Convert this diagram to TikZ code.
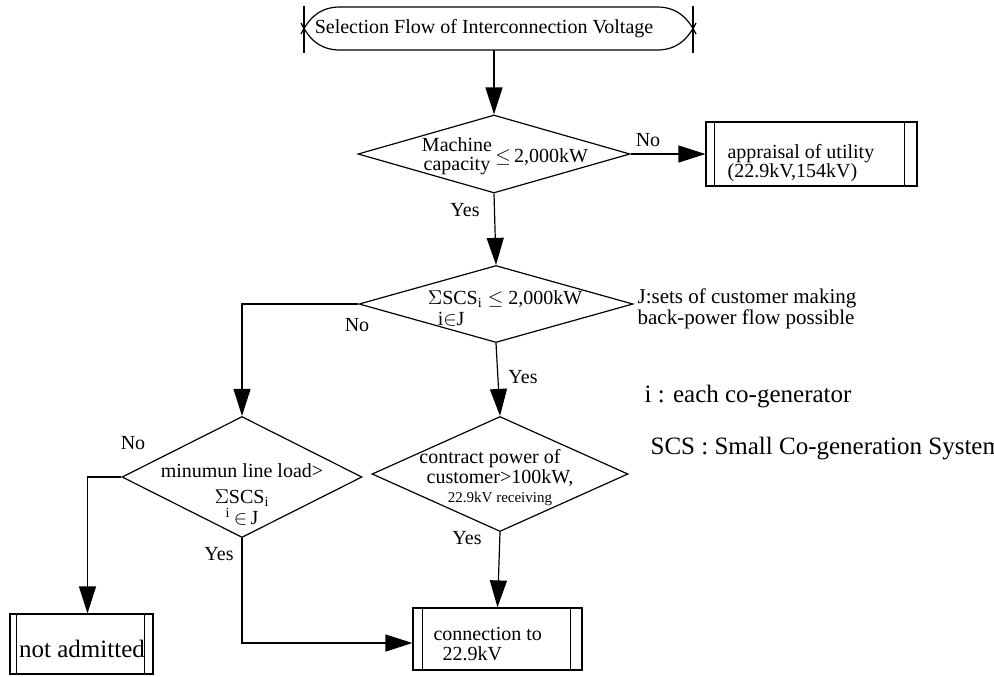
\documentclass[tikz,border=0pt]{standalone}
\usepackage{fontspec}
\setmainfont{Liberation Serif}
\usetikzlibrary{shapes.geometric,arrows.meta}
% text inside a diamond, zero size so the diamond keeps its size
\newcommand{\dtext}[2][0pt]{\raisebox{#1}[0pt][0pt]{\makebox[0pt]{\def\arraystretch{0.8}\begin{tabular}{@{}c@{}}#2\end{tabular}}}}

\begin{document}
\begin{tikzpicture}[x=0.5pt,y=-0.5pt,line width=0.6pt,
    decision/.style={diamond,draw,inner sep=0pt},
    process/.style={rectangle,draw,inner sep=0pt},
    flow/.style={-{Triangle[length=13.5pt,width=8.5pt]}},
    lbl/.style={inner sep=0pt}]
  \path[use as bounding box,clip] (0,0) rectangle (994,676);

  % start
  \node (title) at (484,29) {Selection Flow of Interconnection Voltage};
  \draw (340,7) -- (657,7) .. controls (677,7) and (688,18) .. (696,34);
  \draw (340,50) -- (657,50) .. controls (677,50) and (688,39) .. (696,23);
  \draw (340,7) .. controls (320,7) and (309,18) .. (301,34);
  \draw (340,50) .. controls (320,50) and (309,39) .. (301,23);
  \draw (304,6) -- (304,53) (693,6) -- (693,53);
  \coordinate (title-s) at (494,50);

  % decisions
  \node[decision,minimum width=136pt,minimum height=39pt] (cap) at (494,154)
    {\dtext[-4pt]{\hspace*{11pt}\begin{tabular}{@{}c@{}}Machine\\capacity\end{tabular}\,$\leq$\,2,000kW}};
  \node[decision,minimum width=137pt,minimum height=38.5pt] (sum) at (496,304)
    {\dtext[-6pt]{\hspace*{9pt}\begin{tabular}[t]{@{}l@{}}$\Sigma$SCS\textsubscript{i}\\[1pt]\hspace*{5pt}i$\in$J\end{tabular}\ $\leq$\ 2,000kW}};
  \node[decision,minimum width=120pt,minimum height=60.5pt] (minload) at (242,477)
    {\dtext[-12.5pt]{minumun line load>\\[3.5pt]$\Sigma$SCS\textsubscript{i}\\[-0.5pt]\textsuperscript{i}\,$\in$\,J}};
  \node[decision,minimum width=128pt,minimum height=57.5pt] (contract) at (500,474)
    {\dtext[-5pt]{\hspace*{-10pt}contract power of\\customer>100kW,\\{\fontsize{7.5}{9}\selectfont 22.9kV receiving}}};

  % processes
  \node[process,minimum width=105.5pt,minimum height=32pt] (appr) at (811.5,154) {};
  \node[process,minimum width=84.5pt,minimum height=31pt] (conn) at (497.5,639) {};
  \node[process,minimum width=71.5pt,minimum height=30pt] (notadm) at (81.5,644) {};
  \foreach \b/\l/\r in {appr/4.5/6.5,conn/5/6,notadm/3.5/4.5}
    \draw ([xshift=\l pt]\b.north west) -- ([xshift=\l pt]\b.south west)
      ([xshift=-\r pt]\b.north east) -- ([xshift=-\r pt]\b.south east);
  \node[lbl,anchor=west,align=left,font=\fontsize{10}{9.5}\selectfont] (appr-t) at (727,163)
    {appraisal of utility\\(22.9kV,154kV)};
  \node[lbl,anchor=west,align=left,font=\fontsize{10}{10}\selectfont] (conn-t) at (433,644)
    {connection to\\\hspace*{4.5pt}22.9kV};
  \node[lbl,font=\fontsize{12.5}{15}\selectfont] (notadm-t) at (82,649) {not admitted};

  % connectors
  \draw[flow] (title-s) -- (cap.north);
  \draw[flow] (cap.east) -- (appr.west);
  \draw[flow] (cap.south) -- (sum.north);
  \draw[flow] (sum.west) -| (minload.north);
  \draw[flow] (sum.south) -- (contract.north);
  \draw[flow] (contract.south) -- (conn.north);
  \draw[flow] (minload.west) -| ([xshift=3pt]notadm.north);
  \draw[flow] (minload.south) |- ([yshift=-2pt]conn.west);

  % labels
  \node[lbl] (no-cap) at (648,140) {No};
  \node[lbl] (yes-cap) at (465,210) {Yes};
  \node[lbl] (no-sum) at (357,325) {No};
  \node[lbl] (yes-sum) at (523,377) {Yes};
  \node[lbl] (no-min) at (133,443) {No};
  \node[lbl] (yes-min) at (219,554) {Yes};
  \node[lbl] (yes-con) at (467,538) {Yes};
  \node[lbl,anchor=west,align=left,font=\fontsize{10.5}{9.5}\selectfont] (jset) at (637,309)
    {J:sets of customer making\\back-power flow possible};
  \node[lbl,anchor=west,font=\fontsize{12.5}{15}\selectfont] (inote) at (644,397) {i : each co-generator};
  \node[lbl,anchor=west,font=\fontsize{12.5}{15}\selectfont] (scsnote) at (650,449) {SCS : Small Co-generation System};
\end{tikzpicture}
\end{document}
